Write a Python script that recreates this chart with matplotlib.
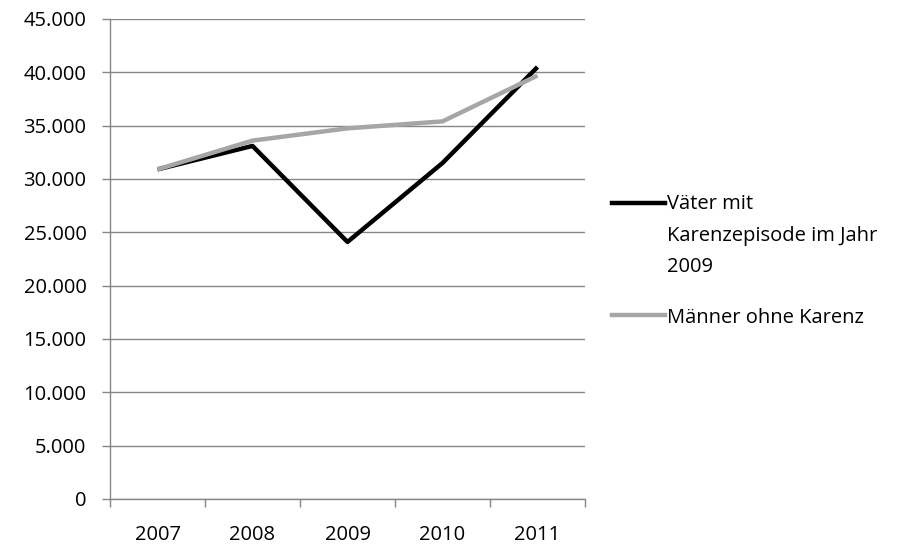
import matplotlib.pyplot as plt
from matplotlib.lines import Line2D
from matplotlib.ticker import FuncFormatter

years = ['2007', '2008', '2009', '2010', '2011']
vaeter = [30900, 33100, 24100, 31500, 40500]
maenner = [30900, 33600, 34750, 35400, 39700]
label_vaeter = ['Väter mit', 'Karenzepisode im Jahr', '2009']
label_maenner = 'Männer ohne Karenz'

plt.rcParams['font.family'] = ['Open Sans', 'DejaVu Sans']
grey = '#868686'
fs = 14.5

fig = plt.figure(figsize=(9.15, 5.47), dpi=100)
ax = fig.add_axes([110/915, 1-499/547, 475/915, 480/547])

x = list(range(len(years)))
ax.plot(x, vaeter, color='black', lw=3.2, zorder=3, solid_capstyle='butt')
ax.plot(x, maenner, color='#a6a6a6', lw=3.2, zorder=4, solid_capstyle='butt')

ax.set_xlim(-0.5, len(years) - 0.5)
ax.set_ylim(0, 45000)
ax.set_yticks(range(0, 45001, 5000))
ax.yaxis.set_major_formatter(FuncFormatter(lambda v, p: f'{int(v):,}'.replace(',', '.')))
ax.grid(axis='y', color=grey, lw=1)
ax.set_axisbelow(True)

# ticks between categories, labels in the middle
ax.set_xticks([i - 0.5 for i in range(len(years) + 1)])
ax.set_xticklabels([])
ax.set_xticks(x, minor=True)
ax.set_xticklabels(years, minor=True)
ax.tick_params(axis='x', which='major', length=6, color=grey, width=1)
ax.tick_params(axis='x', which='minor', length=0, pad=19, labelsize=fs)
ax.tick_params(axis='y', length=6, color=grey, width=1, pad=11, labelsize=fs)

for s in ['top', 'right']:
    ax.spines[s].set_visible(False)
for s in ['left', 'bottom']:
    ax.spines[s].set_color(grey)
    ax.spines[s].set_linewidth(1)

# legend drawn by hand, Excel style
fig.add_artist(Line2D([612/915, 665/915], [1-203/547]*2, color='black', lw=3.2))
for i, line in enumerate(label_vaeter):
    fig.text(667/915, 1-(209 + i*31.5)/547, line, va='baseline', ha='left', fontsize=fs)
fig.add_artist(Line2D([612/915, 665/915], [1-315/547]*2, color='#a6a6a6', lw=3.2))
fig.text(667/915, 1-323/547, label_maenner, va='baseline', ha='left', fontsize=fs)

fig.savefig('out.png', dpi=100)
